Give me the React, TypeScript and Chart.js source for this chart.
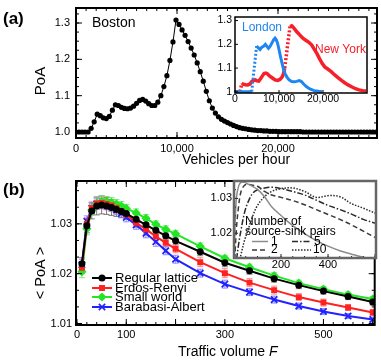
import React, { useEffect, useRef } from 'react';
import { Chart, registerables } from 'chart.js';

Chart.register(...registerables);

const FONT = "'Liberation Sans', Arial, Helvetica, sans-serif";
Chart.defaults.font.family = FONT;

// ---------------- Panel (a): Boston ----------------
const bostonVehicles = [
  0, 300, 600, 900, 1200, 1500, 1800, 2100, 2400, 2700,
  3000, 3300, 3600, 3900, 4200, 4500, 4800, 5100, 5400, 5700,
  6000, 6300, 6600, 6900, 7200, 7500, 7800, 8100, 8400, 8700,
  9000, 9300, 9600, 9900, 10200, 10500, 10800, 11100, 11400, 11700,
  12000, 12300, 12600, 12900, 13200, 13500, 13800, 14100, 14400, 14700,
  15000, 15300, 15600, 15900, 16200, 16500, 16800, 17100, 17400, 17700,
  18000, 18300, 18600, 18900, 19200, 19500, 19800, 20100, 20400, 20700,
  21000, 21300, 21600, 21900, 22200, 22500, 22800, 23100, 23400, 23700,
  24000, 24300, 24600, 24900, 25200, 25500, 25800, 26100, 26400, 26700,
  27000, 27300, 27600, 27900, 28200, 28500, 28800, 29100, 29400, 29700,
];
const bostonPoA = [
  1.000, 1.000, 1.000, 1.000, 1.000, 1.010, 1.028, 1.049, 1.045, 1.039,
  1.037, 1.043, 1.060, 1.075, 1.073, 1.068, 1.065, 1.064, 1.066, 1.071,
  1.079, 1.087, 1.090, 1.085, 1.078, 1.073, 1.073, 1.082, 1.100, 1.125,
  1.155, 1.197, 1.248, 1.308, 1.296, 1.281, 1.266, 1.249, 1.231, 1.212,
  1.190, 1.166, 1.140, 1.112, 1.086, 1.066, 1.052, 1.042, 1.035, 1.030,
  1.026, 1.022, 1.018, 1.015, 1.012, 1.010, 1.009, 1.007, 1.006, 1.005,
  1.004, 1.004, 1.003, 1.003, 1.002, 1.002, 1.002, 1.001, 1.001, 1.001,
  1.001, 1.001, 1.001, 1.001, 1.001, 1.000, 1.000, 1.000, 1.000, 1.000,
  1.000, 1.000, 1.000, 1.000, 1.000, 1.000, 1.000, 1.000, 1.000, 1.000,
  1.000, 1.000, 1.000, 1.000, 1.000, 1.000, 1.000, 1.000, 1.000, 1.000,
];
const aXTicks = [0, 10000, 20000];
const aYTicks = [1.0, 1.1, 1.2, 1.3];

// ---------------- Inset (a): London / New York ----------------
const londonVehicles = [
  0, 1000, 2000, 3000, 3800, 4900, 5300, 5700, 6100, 6500, 6900, 7300, 7600, 8000,
  8400, 8800, 9100, 9400, 9700, 10000, 10300, 10700, 11000, 11400, 11800, 12300,
  12900, 13500, 14000, 14600, 15100, 15600, 16200, 17000, 18000, 19000, 19800,
];
const londonPoA = [
  1.0, 1.0, 1.0, 1.0, 1.001, 1.192, 1.185, 1.178, 1.188, 1.192, 1.2, 1.19, 1.183, 1.192,
  1.206, 1.22, 1.226, 1.218, 1.203, 1.178, 1.152, 1.12, 1.097, 1.075, 1.062, 1.05,
  1.043, 1.042, 1.044, 1.047, 1.043, 1.033, 1.022, 1.012, 1.005, 1.002, 1.0,
];
const newYorkVehicles = [
  0, 800, 1200, 1500, 1900, 2400, 2900, 3400, 3800, 4200, 4600, 5000, 5400, 5800,
  6200, 6600, 7000, 7400, 7900, 8500, 9100, 9700, 10200, 10700, 11000, 11300, 12500,
  12900, 13400, 14000, 14600, 15300, 16000, 16800, 17400, 18000, 18600, 19200, 19800,
  20400, 21000, 21800, 22600, 23400, 24200, 25000, 25800, 26600, 27400, 28200, 29000, 29800,
];
const newYorkPoA = [
  1.0, 1.0, 1.001, 1.035, 1.032, 1.03, 1.029, 1.033, 1.043, 1.048, 1.05, 1.046, 1.045, 1.055,
  1.066, 1.077, 1.079, 1.075, 1.066, 1.058, 1.05, 1.048, 1.052, 1.062, 1.075, 1.1, 1.275,
  1.278, 1.268, 1.254, 1.242, 1.228, 1.218, 1.208, 1.198, 1.18, 1.162, 1.14, 1.12,
  1.105, 1.097, 1.086, 1.072, 1.06, 1.048, 1.037, 1.028, 1.02, 1.013, 1.008, 1.005, 1.003,
];
const insetAXTicks = [0, 10000, 20000];
const insetAYTicks = [1.0, 1.1, 1.2, 1.3];

// ---------------- Panel (b): network types ----------------
const trafficVolume = [10, 20, 30, 40, 50, 60, 70, 80, 90, 100, 120, 140, 160, 180, 200, 250, 300, 350, 400, 450, 500, 550, 600];
const seriesNames = ['Regular lattice', 'Erdos-Renyi', 'Small world', 'Barabasi-Albert'];
const regularLattice = [1.0220, 1.0296, 1.0326, 1.0336, 1.0338, 1.0336, 1.0333, 1.0329, 1.0325, 1.0321, 1.0309, 1.0298, 1.0287, 1.0276, 1.0266, 1.0244, 1.0222, 1.0206, 1.0190, 1.0177, 1.0165, 1.0154, 1.0143];
const erdosRenyi = [1.0212, 1.0300, 1.0332, 1.0341, 1.0342, 1.0340, 1.0337, 1.0332, 1.0326, 1.0319, 1.0302, 1.0289, 1.0275, 1.0262, 1.0250, 1.0223, 1.0201, 1.0182, 1.0167, 1.0153, 1.0142, 1.0132, 1.0122];
const smallWorld = [1.0204, 1.0290, 1.0328, 1.0341, 1.0345, 1.0345, 1.0343, 1.0340, 1.0336, 1.0331, 1.0322, 1.0311, 1.0299, 1.0289, 1.0280, 1.0255, 1.0231, 1.0213, 1.0196, 1.0181, 1.0169, 1.0158, 1.0149];
const barabasiAlbert = [1.0218, 1.0305, 1.0331, 1.0340, 1.0341, 1.0339, 1.0335, 1.0328, 1.0321, 1.0313, 1.0298, 1.0281, 1.0264, 1.0246, 1.0229, 1.0201, 1.0179, 1.0163, 1.0148, 1.0135, 1.0124, 1.0115, 1.0108];
const latticeErr = [0.0012, 0.0014, 0.0016, 0.0018, 0.0018, 0.0017, 0.0016, 0.0014, 0.0012, 0.0011, 0.0010, 0.0009, 0.0009, 0.0008, 0.0008, 0.0008, 0.0008, 0.0007, 0.0007, 0.0007, 0.0006, 0.0006, 0.0006];
const erdosErr = [0.0012, 0.0012, 0.0012, 0.0012, 0.0012, 0.0012, 0.0011, 0.0011, 0.0010, 0.0010, 0.0009, 0.0009, 0.0009, 0.0008, 0.0008, 0.0009, 0.0009, 0.0008, 0.0008, 0.0007, 0.0007, 0.0006, 0.0006];
const smallWorldErr = [0.0012, 0.0012, 0.0011, 0.0011, 0.0011, 0.0010, 0.0010, 0.0009, 0.0009, 0.0008, 0.0008, 0.0008, 0.0007, 0.0007, 0.0007, 0.0007, 0.0006, 0.0006, 0.0006, 0.0006, 0.0005, 0.0005, 0.0005];
const barabasiErr = [0.0011, 0.0011, 0.0011, 0.0010, 0.0010, 0.0010, 0.0010, 0.0009, 0.0009, 0.0009, 0.0009, 0.0009, 0.0009, 0.0008, 0.0008, 0.0008, 0.0008, 0.0007, 0.0007, 0.0006, 0.0006, 0.0005, 0.0005];
const bXTicks = [0, 100, 300, 500];
const bYTicks = [1.01, 1.02, 1.03];

// ---------------- Inset (b): number of source-sink pairs ----------------
const pairsTraffic = [0, 10, 20, 30, 45, 60, 80, 100, 130, 160, 200, 250, 300, 350, 400, 450, 500, 550, 600];
const pairLabels = ['1', '2', '5', '10'];
const pairs1 = [1.015, 1.0300, 1.0336, 1.0346, 1.0346, 1.0341, 1.0334, 1.0326, 1.0305, 1.0276, 1.0251, 1.0222, 1.0199, 1.0179, 1.0163, 1.0150, 1.0140, 1.0131, 1.0125];
const pairs2 = [1.008, 1.021, 1.028, 1.032, 1.0338, 1.034, 1.0338, 1.0335, 1.032, 1.031, 1.0303, 1.0294, 1.0282, 1.0268, 1.0254, 1.0240, 1.0224, 1.0206, 1.0188];
const pairs5 = [1.006, 1.012, 1.017, 1.021, 1.026, 1.029, 1.0315, 1.0325, 1.033, 1.0332, 1.0328, 1.032, 1.031, 1.0295, 1.028, 1.0268, 1.0255, 1.024, 1.0229];
const pairs10 = [1.005, 1.008, 1.011, 1.014, 1.018, 1.021, 1.025, 1.028, 1.0305, 1.032, 1.0328, 1.033, 1.032, 1.0303, 1.0308, 1.0305, 1.0285, 1.0272, 1.0258];
const insetBXTicks = [200, 400];
const insetBYTicks = [1.02, 1.03];

// ---------------- helpers ----------------
function steps(a: number, b: number, d: number): number[] {
  const out: number[] = [];
  for (let v = a; v <= b + d * 1e-6; v += d) out.push(v);
  return out;
}

function axis(o: { min: number; max: number; ticks: number[]; fmt: (v: number) => string; size: number; pad: number; fit: number; horizontal: boolean }) {
  return {
    type: 'linear',
    min: o.min,
    max: o.max,
    grid: { display: false, drawTicks: false },
    border: { display: false },
    afterBuildTicks: (s: any) => {
      s.ticks = o.ticks.map((v) => ({ value: v }));
    },
    afterFit: (s: any) => {
      if (o.horizontal) s.height = o.fit;
      else s.width = o.fit;
      s.paddingTop = 0;
      s.paddingBottom = 0;
      s.paddingLeft = 0;
      s.paddingRight = 0;
    },
    ticks: {
      callback: (v: any) => o.fmt(Number(v)),
      font: { family: FONT, size: o.size },
      color: '#000',
      padding: o.pad,
      maxRotation: 0,
      minRotation: 0,
      autoSkip: false,
    },
  };
}

const commas = (v: number) => Math.round(v).toLocaleString('en-US');

type FrameSpec = {
  xMajor: number[]; xMinor: number[]; yMajor: number[]; yMinor: number[];
  major: number; minor: number; mirror: boolean;
  tickColor: string; tickWidth: number; frameColor: string; frameWidth: number; fill?: string;
};

function framePlugin(spec: FrameSpec) {
  return {
    id: 'frameTicks',
    beforeDraw(chart: any) {
      if (!spec.fill) return;
      const a = chart.chartArea;
      const ctx = chart.ctx;
      ctx.save();
      ctx.fillStyle = spec.fill;
      ctx.fillRect(a.left, a.top, a.right - a.left, a.bottom - a.top);
      ctx.restore();
    },
    afterDraw(chart: any) {
      const { ctx, chartArea: a, scales } = chart;
      const xs = scales.x;
      const ys = scales.y;
      ctx.save();
      ctx.strokeStyle = spec.tickColor;
      ctx.lineWidth = spec.tickWidth;
      ctx.beginPath();
      const vt = (v: number, len: number) => {
        const px = xs.getPixelForValue(v);
        if (px < a.left - 0.5 || px > a.right + 0.5) return;
        ctx.moveTo(px, a.bottom);
        ctx.lineTo(px, a.bottom - len);
        if (spec.mirror) {
          ctx.moveTo(px, a.top);
          ctx.lineTo(px, a.top + len);
        }
      };
      const ht = (v: number, len: number) => {
        const py = ys.getPixelForValue(v);
        if (py < a.top - 0.5 || py > a.bottom + 0.5) return;
        ctx.moveTo(a.left, py);
        ctx.lineTo(a.left + len, py);
        if (spec.mirror) {
          ctx.moveTo(a.right, py);
          ctx.lineTo(a.right - len, py);
        }
      };
      spec.xMinor.forEach((v) => vt(v, spec.minor));
      spec.xMajor.forEach((v) => vt(v, spec.major));
      spec.yMinor.forEach((v) => ht(v, spec.minor));
      spec.yMajor.forEach((v) => ht(v, spec.major));
      ctx.stroke();
      ctx.strokeStyle = spec.frameColor;
      ctx.lineWidth = spec.frameWidth;
      ctx.strokeRect(a.left, a.top, a.right - a.left, a.bottom - a.top);
      ctx.restore();
    },
  };
}

type TextPart = { text: string; italic?: boolean };
type TextItem = { parts: TextPart[]; x: number; y: number; size: number; bold?: boolean; color?: string; align?: 'left' | 'center'; rotate?: number };

function textPlugin(items: TextItem[]) {
  return {
    id: 'texts',
    afterDraw(chart: any) {
      const ctx = chart.ctx;
      items.forEach((t) => {
        ctx.save();
        ctx.translate(t.x, t.y);
        if (t.rotate) ctx.rotate(t.rotate);
        ctx.fillStyle = t.color || '#000';
        ctx.textBaseline = 'middle';
        ctx.textAlign = 'left';
        const fontOf = (p: TextPart) => `${p.italic ? 'italic ' : ''}${t.bold ? 'bold ' : ''}${t.size}px ${FONT}`;
        let total = 0;
        t.parts.forEach((p) => {
          ctx.font = fontOf(p);
          total += ctx.measureText(p.text).width;
        });
        let x = t.align === 'center' ? -total / 2 : 0;
        t.parts.forEach((p) => {
          ctx.font = fontOf(p);
          ctx.fillText(p.text, x, 0);
          x += ctx.measureText(p.text).width;
        });
        ctx.restore();
      });
    },
  };
}

function drawMarker(ctx: CanvasRenderingContext2D, style: string, x: number, y: number, r: number, color: string) {
  ctx.save();
  ctx.fillStyle = color;
  ctx.strokeStyle = color;
  ctx.lineWidth = 1.6;
  ctx.beginPath();
  if (style === 'circle') {
    ctx.arc(x, y, r, 0, Math.PI * 2);
    ctx.fill();
  } else if (style === 'rect') {
    const s = r * Math.SQRT1_2;
    ctx.fillRect(x - s, y - s, 2 * s, 2 * s);
  } else if (style === 'rectRot') {
    ctx.moveTo(x, y - r);
    ctx.lineTo(x + r, y);
    ctx.lineTo(x, y + r);
    ctx.lineTo(x - r, y);
    ctx.closePath();
    ctx.fill();
  } else {
    const s = r * Math.SQRT1_2;
    ctx.moveTo(x - s, y - s);
    ctx.lineTo(x + s, y + s);
    ctx.moveTo(x - s, y + s);
    ctx.lineTo(x + s, y - s);
    ctx.stroke();
  }
  ctx.restore();
}

// ---------------- chart configs ----------------
function mainAConfig(): any {
  return {
    type: 'line',
    data: {
      datasets: [
        {
          label: 'Boston',
          data: bostonVehicles.map((x, i) => ({ x, y: bostonPoA[i] })),
          borderColor: '#000',
          borderWidth: 1,
          pointRadius: 2.6,
          pointBackgroundColor: '#000',
          pointBorderWidth: 0,
          pointStyle: 'circle',
        },
      ],
    },
    options: {
      responsive: false,
      animation: false,
      devicePixelRatio: 1,
      layout: { padding: { left: 0, top: 8, right: 4, bottom: 0 } },
      plugins: { legend: { display: false }, tooltip: { enabled: false } },
      scales: {
        x: axis({ min: 0, max: 29800, ticks: aXTicks, fmt: commas, size: 11, pad: 4, fit: 32, horizontal: true }),
        y: axis({ min: 0.9835, max: 1.3413, ticks: aYTicks, fmt: (v) => v.toFixed(1), size: 11, pad: 6, fit: 76, horizontal: false }),
      },
    },
    plugins: [
      framePlugin({
        xMajor: aXTicks, xMinor: steps(0, 29000, 1000), yMajor: aYTicks, yMinor: steps(0.975, 1.35, 0.025),
        major: 6, minor: 3, mirror: true, tickColor: '#000', tickWidth: 1, frameColor: '#000', frameWidth: 2,
      }),
      textPlugin([
        { parts: [{ text: '(a)' }], x: 3, y: 19, size: 17, bold: true },
        { parts: [{ text: 'Boston' }], x: 92, y: 23, size: 14 },
        { parts: [{ text: 'PoA' }], x: 41, y: 81, size: 15, align: 'center', rotate: -Math.PI / 2 },
        { parts: [{ text: 'Vehicles per hour' }], x: 236, y: 160, size: 14, align: 'center' },
      ]),
    ],
  };
}

function insetAConfig(): any {
  const dotted = (c: any) => (Math.abs(c.p1.y - c.p0.y) > 5.5 * Math.abs(c.p1.x - c.p0.x) ? [2, 2] : undefined);
  return {
    type: 'line',
    data: {
      datasets: [
        {
          label: 'London',
          data: londonVehicles.map((x, i) => ({ x, y: londonPoA[i] })),
          borderColor: '#1e86f0',
          borderWidth: 3,
          pointRadius: 0,
          segment: { borderDash: dotted },
        },
        {
          label: 'New York',
          data: newYorkVehicles.map((x, i) => ({ x, y: newYorkPoA[i] })),
          borderColor: '#f5202a',
          borderWidth: 3.5,
          pointRadius: 0,
          segment: { borderDash: dotted },
        },
      ],
    },
    options: {
      responsive: false,
      animation: false,
      devicePixelRatio: 1,
      layout: { padding: { left: 0, top: 7, right: 3, bottom: 0 } },
      plugins: { legend: { display: false }, tooltip: { enabled: false } },
      scales: {
        x: axis({ min: 0, max: 30000, ticks: insetAXTicks, fmt: commas, size: 10.5, pad: 0, fit: 17, horizontal: true }),
        y: axis({ min: 0.995, max: 1.315, ticks: insetAYTicks, fmt: (v) => (v === 1 ? '1' : v.toFixed(1)), size: 10.5, pad: 3, fit: 45, horizontal: false }),
      },
    },
    plugins: [
      framePlugin({
        xMajor: insetAXTicks, xMinor: [], yMajor: insetAYTicks, yMinor: [],
        major: 3, minor: 2, mirror: false, tickColor: '#000', tickWidth: 1, frameColor: '#000', frameWidth: 1.5, fill: '#fff',
      }),
      textPlugin([
        { parts: [{ text: 'London' }], x: 52, y: 18, size: 12, color: '#1e86f0' },
        { parts: [{ text: 'New York' }], x: 125, y: 40, size: 12, color: '#f5202a' },
      ]),
    ],
  };
}

const bColors = ['#000000', '#ff2020', '#22e622', '#2222ff'];
const bErrColors = ['rgba(80,80,80,0.75)', 'rgba(255,110,110,0.8)', 'rgba(110,225,110,0.85)', 'rgba(110,110,255,0.75)'];
const bStyles = ['circle', 'rect', 'rectRot', 'crossRot'];
const bRadius = [3.5, 4.2, 4.6, 4.5];

function mainBConfig(): any {
  const values = [regularLattice, erdosRenyi, smallWorld, barabasiAlbert];
  const errors = [latticeErr, erdosErr, smallWorldErr, barabasiErr];
  const errorBars = {
    id: 'errorBars',
    beforeDatasetsDraw(chart: any) {
      const ctx = chart.ctx;
      const ys = chart.scales.y;
      ctx.save();
      ctx.lineWidth = 1;
      values.forEach((vals, i) => {
        const meta = chart.getDatasetMeta(i);
        ctx.strokeStyle = bErrColors[i];
        ctx.beginPath();
        vals.forEach((v, j) => {
          const x = meta.data[j].x;
          const y0 = ys.getPixelForValue(v + errors[i][j]);
          const y1 = ys.getPixelForValue(v - errors[i][j]);
          ctx.moveTo(x, y0);
          ctx.lineTo(x, y1);
          ctx.moveTo(x - 3, y0);
          ctx.lineTo(x + 3, y0);
          ctx.moveTo(x - 3, y1);
          ctx.lineTo(x + 3, y1);
        });
        ctx.stroke();
      });
      ctx.restore();
    },
  };
  const legend = {
    id: 'customLegend',
    afterDraw(chart: any) {
      const ctx = chart.ctx;
      const rows = [108, 118, 127, 137];
      seriesNames.forEach((name, i) => {
        const y = rows[i];
        ctx.save();
        ctx.strokeStyle = bColors[i];
        ctx.lineWidth = 2;
        ctx.beginPath();
        ctx.moveTo(92, y);
        ctx.lineTo(112, y);
        ctx.stroke();
        ctx.restore();
        drawMarker(ctx, bStyles[i], 102, y, bRadius[i], bColors[i]);
        ctx.save();
        ctx.fillStyle = '#000';
        ctx.font = `13px ${FONT}`;
        ctx.textBaseline = 'middle';
        ctx.fillText(name, 115, y);
        ctx.restore();
      });
    },
  };
  return {
    type: 'line',
    data: {
      datasets: values.map((vals, i) => ({
        label: seriesNames[i],
        data: trafficVolume.map((x, j) => ({ x, y: vals[j] })),
        borderColor: bColors[i],
        borderWidth: 2,
        pointStyle: bStyles[i],
        pointRadius: bRadius[i],
        pointBackgroundColor: bColors[i],
        pointBorderColor: bColors[i],
        pointBorderWidth: bStyles[i] === 'crossRot' ? 1.8 : 0,
      })),
    },
    options: {
      responsive: false,
      animation: false,
      devicePixelRatio: 1,
      layout: { padding: { left: 0, top: 11, right: 4, bottom: 0 } },
      plugins: { legend: { display: false }, tooltip: { enabled: false } },
      scales: {
        x: axis({ min: -2, max: 604, ticks: bXTicks, fmt: (v) => String(Math.round(v)), size: 11, pad: 3, fit: 37, horizontal: true }),
        y: axis({ min: 1.0097, max: 1.0386, ticks: bYTicks, fmt: (v) => v.toFixed(2), size: 11, pad: 4, fit: 76, horizontal: false }),
      },
    },
    plugins: [
      errorBars,
      framePlugin({
        xMajor: steps(0, 600, 100), xMinor: steps(0, 600, 20), yMajor: bYTicks, yMinor: steps(1.01, 1.0385, 0.01 / 3),
        major: 6, minor: 3, mirror: true, tickColor: '#000', tickWidth: 1, frameColor: '#000', frameWidth: 2,
      }),
      legend,
      textPlugin([
        { parts: [{ text: '(b)' }], x: 3, y: 20, size: 17, bold: true },
        { parts: [{ text: '< PoA >' }], x: 41, y: 103, size: 14.5, align: 'center', rotate: -Math.PI / 2 },
        { parts: [{ text: 'Traffic volume ' }, { text: 'F', italic: true }], x: 178, y: 182, size: 14 },
      ]),
    ],
  };
}

const pairColors = ['#8c8c8c', '#3a3a3a', '#2a2a2a', '#2a2a2a'];
const pairDashes = [[], [5, 3], [6, 2, 1.5, 2], [1.5, 1.5]];

function insetBConfig(): any {
  const values = [pairs1, pairs2, pairs5, pairs10];
  const legend = {
    id: 'pairsLegend',
    afterDraw(chart: any) {
      const ctx = chart.ctx;
      ctx.save();
      ctx.fillStyle = '#000';
      ctx.font = `12px ${FONT}`;
      ctx.textBaseline = 'middle';
      ctx.fillText('Number of', 55, 46);
      ctx.fillText('source-sink pairs', 55, 56);
      const entries = [
        { i: 0, x0: 62, x1: 78, tx: 81, y: 65.5 },
        { i: 2, x0: 102, x1: 121, tx: 124, y: 65.5 },
        { i: 1, x0: 62, x1: 78, tx: 81, y: 74 },
        { i: 3, x0: 102, x1: 121, tx: 123, y: 74 },
      ];
      entries.forEach((e) => {
        ctx.save();
        ctx.strokeStyle = pairColors[e.i];
        ctx.lineWidth = 1.5;
        ctx.setLineDash(pairDashes[e.i]);
        ctx.beginPath();
        ctx.moveTo(e.x0, e.y);
        ctx.lineTo(e.x1, e.y);
        ctx.stroke();
        ctx.restore();
        ctx.fillText(pairLabels[e.i], e.tx, e.y);
      });
      ctx.restore();
    },
  };
  return {
    type: 'line',
    data: {
      datasets: values.map((vals, i) => ({
        label: pairLabels[i],
        data: pairsTraffic.map((x, j) => ({ x, y: vals[j] })),
        borderColor: pairColors[i],
        borderWidth: 1.5,
        borderDash: pairDashes[i],
        pointRadius: 0,
        tension: 0.35,
        clip: 0,
      })),
    },
    options: {
      responsive: false,
      animation: false,
      devicePixelRatio: 1,
      layout: { padding: { left: 0, top: 5, right: 5, bottom: 0 } },
      plugins: { legend: { display: false }, tooltip: { enabled: false } },
      scales: {
        x: axis({ min: 0, max: 604, ticks: insetBXTicks, fmt: (v) => String(Math.round(v)), size: 11, pad: 0, fit: 18, horizontal: true }),
        y: axis({ min: 1.0129, max: 1.035, ticks: insetBYTicks, fmt: (v) => v.toFixed(2), size: 11, pad: 2, fit: 44, horizontal: false }),
      },
    },
    plugins: [
      framePlugin({
        xMajor: [0, 200, 400, 600], xMinor: steps(0, 600, 50), yMajor: insetBYTicks, yMinor: steps(1.0125, 1.035, 0.0025),
        major: 4, minor: 2, mirror: false, tickColor: '#222', tickWidth: 1, frameColor: '#666', frameWidth: 2.5, fill: '#fff',
      }),
      legend,
    ],
  };
}

function ChartCanvas(props: { left: number; top: number; width: number; height: number; make: () => any }) {
  const ref = useRef<HTMLCanvasElement>(null);
  useEffect(() => {
    const chart = new Chart(ref.current as HTMLCanvasElement, props.make());
    return () => chart.destroy();
  }, []);
  return (
    <canvas
      ref={ref}
      width={props.width}
      height={props.height}
      style={{ position: 'absolute', left: props.left, top: props.top, width: props.width, height: props.height }}
    />
  );
}

export default function App() {
  useEffect(() => {
    document.body.style.margin = '0';
  }, []);
  return (
    <div style={{ position: 'absolute', left: 0, top: 0, width: 381, height: 362, background: '#fff', overflow: 'hidden' }}>
      <ChartCanvas left={0} top={0} width={381} height={170} make={mainAConfig} />
      <ChartCanvas left={0} top={170} width={381} height={192} make={mainBConfig} />
      <ChartCanvas left={190} top={10} width={180} height={100} make={insetAConfig} />
      <ChartCanvas left={190} top={176} width={191} height={100} make={insetBConfig} />
    </div>
  );
}
